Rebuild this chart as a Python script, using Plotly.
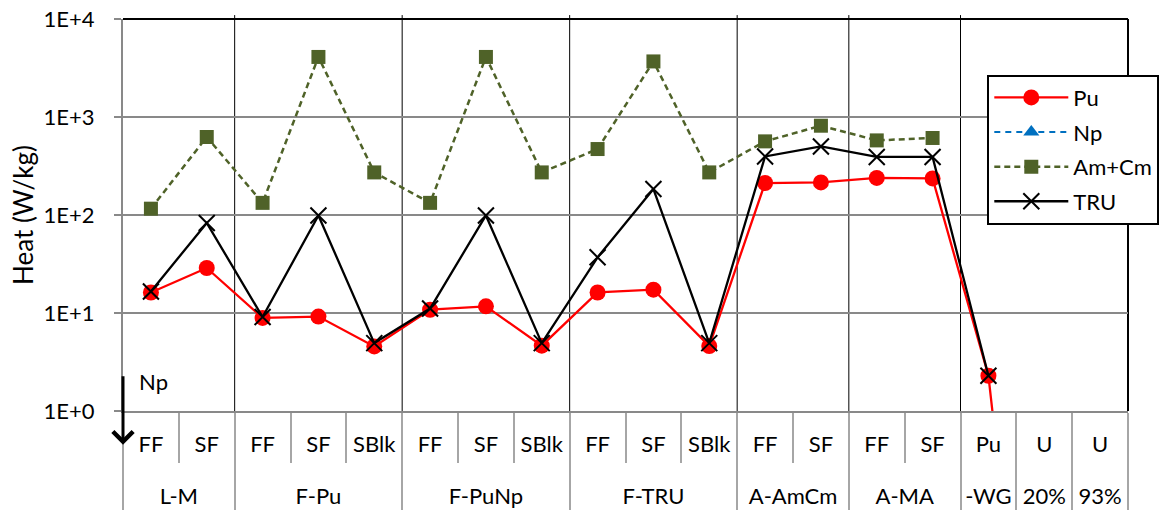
import plotly.graph_objects as go

# ---- data -------------------------------------------------------------
groups = ["L-M", "L-M", "F-Pu", "F-Pu", "F-Pu", "F-PuNp", "F-PuNp", "F-PuNp",
          "F-TRU", "F-TRU", "F-TRU", "A-AmCm", "A-AmCm", "A-MA", "A-MA",
          "-WG", "20%", "93%"]
subs = ["FF", "SF", "FF", "SF", "SBlk", "FF", "SF", "SBlk",
        "FF", "SF", "SBlk", "FF", "SF", "FF", "SF",
        "Pu", "U", "U"]

pu = [16.2, 28.8, 8.9, 9.2, 4.56, 10.8, 11.7, 4.64,
      16.2, 17.3, 4.6, 212, 215, 239, 236,
      2.29, 2e-5, 1e-5]
np_vals = [0.12, 0.30, 0.08, 0.20, 0.05, 0.35, 0.45, 0.20,
           0.15, 0.40, 0.10, 0.30, 0.45, 0.35, 0.40,
           None, None, None]
amcm = [116, 625, 133, 4100, 272, 133, 4100, 272,
        471, 3690, 272, 564, 815, 577, 611,
        None, None, None]
tru = [16.6, 83, 9.1, 99, 4.93, 11.1, 99, 4.93,
       37, 184, 4.93, 396, 501, 391, 391,
       2.29, None, None]

ytick_vals = [1, 10, 100, 1000, 10000]
ytick_text = ["1E+0", "1E+1", "1E+2", "1E+3", "1E+4"]

FONT = "Lato"
GRID = "#898989"
DIV = "#A6A6A6"

# sub-level labels get a blank spacer line so the group row sits lower
PAD = "<br><span style='font-size:53px'>&nbsp;</span>"
x = [groups, [s + PAD for s in subs]]

fig = go.Figure()
fig.add_trace(go.Scatter(
    x=x, y=pu, name="Pu", mode="lines+markers", legendgroup="a",
    line=dict(color="#FF0000", width=2.3),
    marker=dict(symbol="circle", size=16, color="#FF0000")))
fig.add_trace(go.Scatter(
    x=x, y=np_vals, name="Np", mode="lines+markers", legendgroup="b",
    line=dict(color="#0070C0", width=2, dash="6px,5px"),
    marker=dict(symbol="triangle-up", size=14, color="#0070C0")))
fig.add_trace(go.Scatter(
    x=x, y=amcm, name="Am+Cm", mode="lines+markers", legendgroup="c",
    line=dict(color="#4F6228", width=2.5, dash="6px,4px"),
    marker=dict(symbol="square", size=14, color="#4F6228")))
fig.add_trace(go.Scatter(
    x=x, y=tru, name="TRU", mode="lines+markers", legendgroup="d",
    line=dict(color="#000000", width=2.3),
    marker=dict(symbol="x-thin", size=16, color="#000000",
                line=dict(color="#000000", width=2))))

# group boundary lines inside the plot (first six groups)
order = []
for g in groups:
    if g not in order:
        order.append(g)
n = len(subs)
shapes = []
pos = 0
for g in order[:6]:
    pos += groups.count(g)
    shapes.append(dict(type="line", xref="paper", yref="paper",
                       x0=pos / n, x1=pos / n, y0=0, y1=1.01,
                       line=dict(color="black", width=1), layer="between"))
# black frame top and right
shapes.append(dict(type="line", xref="paper", yref="paper", x0=0, x1=1, y0=1, y1=1,
                   line=dict(color="black", width=2), layer="between"))
shapes.append(dict(type="line", xref="paper", yref="paper", x0=1, x1=1, y0=0, y1=1,
                   line=dict(color="black", width=2), layer="between"))

fig.update_layout(
    width=1168, height=513,
    margin=dict(l=123, r=40, t=19, b=102, autoexpand=False),
    plot_bgcolor="white", paper_bgcolor="white",
    font=dict(family=FONT, size=22, color="black"),
    shapes=shapes,
    legend=dict(x=0.86, y=0.858, xanchor="left", yanchor="top",
                bordercolor="black", borderwidth=2, bgcolor="white",
                font=dict(size=22, family=FONT), traceorder="grouped",
                tracegroupgap=3, itemwidth=74),
    annotations=[
        dict(xref="paper", yref="paper", x=0, y=-0.086, ax=0, ay=-70,
             text="", showarrow=True, arrowhead=4, arrowsize=1.3,
             arrowwidth=3, arrowcolor="black"),
        dict(xref="paper", yref="paper", x=0.014, y=0.075, xanchor="left",
             yanchor="middle", text="Np", showarrow=False,
             font=dict(size=22, family=FONT, color="black")),
    ],
)

fig.update_xaxes(
    type="multicategory", showgrid=False, automargin=False,
    range=[-0.5, n - 0.5],
    showline=True, linecolor=GRID, linewidth=2,
    ticks="outside", tickson="boundaries", ticklen=50, tickangle=0,
    ticklabelstandoff=13,
    tickcolor=DIV, tickwidth=1.5,
    showdividers=True, dividercolor=DIV, dividerwidth=1.5,
    tickfont=dict(size=22, family=FONT, color="black"),
)
fig.update_yaxes(
    type="log", range=[0, 4], automargin=False,
    tickvals=ytick_vals, ticktext=ytick_text,
    showgrid=True, gridcolor=GRID, gridwidth=2,
    showline=True, linecolor=GRID, linewidth=2,
    ticks="outside", ticklen=7, tickcolor=GRID, tickwidth=2,
    ticklabelstandoff=15,
    tickfont=dict(size=22, family=FONT, color="black"),
    title=dict(text="Heat (W/kg)", font=dict(size=26, family=FONT), standoff=2),
)

fig.write_html("out.html")
